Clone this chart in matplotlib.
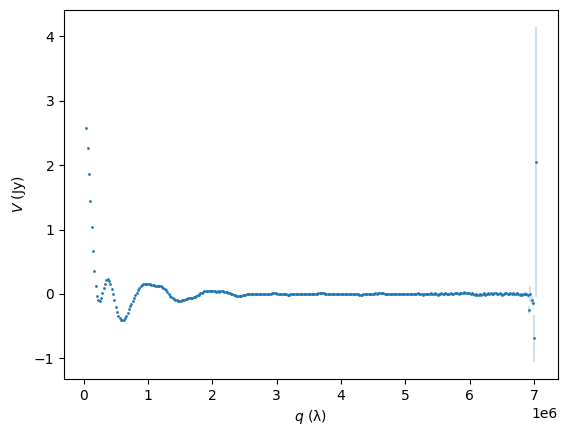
import numpy as np
import matplotlib
matplotlib.use("Agg")
import matplotlib.pyplot as plt

# binned visibilities: regular grid in q (lambda)
q_first = 0.04e6
q_step = 0.0206e6

V = [
    2.58, 2.27, 1.86, 1.44, 1.04, 0.67, 0.36, 0.13, -0.03, -0.10,
    -0.11, -0.06, 0.02, 0.10, 0.16, 0.22, 0.23, 0.20, 0.16, 0.08,
    0.00, -0.10, -0.20, -0.28, -0.34, -0.38, -0.40, -0.41, -0.40, -0.37,
    -0.34, -0.29, -0.24, -0.19, -0.15, -0.11, -0.06, -0.02, 0.02, 0.06,
    0.09, 0.12, 0.14, 0.15, 0.16, 0.16, 0.16, 0.15, 0.15, 0.14,
    0.14, 0.14, 0.13, 0.13, 0.13, 0.12, 0.12, 0.11, 0.10, 0.08,
    0.06, 0.03, 0.00, -0.03, -0.05, -0.07, -0.08, -0.09, -0.10, -0.11,
    -0.11, -0.11, -0.10, -0.10, -0.09, -0.08, -0.08, -0.07, -0.07, -0.06,
    -0.06, -0.05, -0.04, -0.03, -0.02, -0.01, 0.01, 0.02, 0.03, 0.04,
    0.05, 0.05, 0.05, 0.05, 0.04, 0.04, 0.04, 0.04, 0.035, 0.04,
    0.035, 0.04, 0.045, 0.04, 0.035, 0.03, 0.025, 0.02, 0.015, 0.005,
    0.00, -0.01, -0.015, -0.025, -0.03, -0.03, -0.03, -0.025, -0.02, -0.015,
    -0.01, -0.005,
    0.000, 0.002, 0.003, 0.000, -0.002, 0.001, 0.002, 0.000, 0.001, 0.003,
    0.002, 0.000, 0.001, 0.004, 0.003, 0.002, 0.004, 0.006, 0.008, 0.010,
    0.012, 0.009, 0.005, 0.002, 0.001, 0.003, 0.000, 0.001, -0.003, -0.008,
    -0.012, -0.010, -0.004, 0.000, 0.002, 0.001, 0.003, 0.002, 0.001, 0.004,
    0.002, 0.000, 0.003, 0.002, 0.004, 0.003, 0.001, 0.002, 0.003, 0.005,
    0.004, 0.006, 0.007, 0.009, 0.012, 0.013, 0.010, 0.008, 0.005, 0.003,
    0.004, 0.002, 0.000, -0.002, 0.001, 0.000, -0.003, -0.001, 0.002, 0.000,
    -0.002, 0.001, 0.002, 0.000, -0.001, 0.001, 0.000, 0.002, -0.001, 0.000,
    0.001, -0.002, -0.004, -0.006, -0.009, -0.012, -0.014, -0.008, -0.003, 0.001,
    0.003, 0.002, 0.004, 0.006, 0.005, 0.007, 0.008, 0.006, 0.009, 0.012,
    0.014, 0.011, 0.008, 0.006, 0.004, 0.005, 0.003, 0.002, 0.004, 0.001,
    0.003, 0.002, 0.000, 0.002, 0.004, 0.001, 0.003, 0.000, 0.002, 0.001,
    0.000, 0.003, 0.001, -0.002, 0.002, 0.005, -0.006, 0.004, 0.008, -0.004,
    0.002, 0.006, -0.010, 0.003, 0.007, 0.000, -0.008, 0.005, 0.010, 0.002,
    -0.005, 0.008, 0.004, -0.012, 0.006, 0.002, 0.010, -0.004, 0.003, 0.012,
    0.006, -0.008, 0.004, 0.014, 0.002, -0.006, 0.010, 0.016, 0.008, 0.004,
    0.012, 0.020, 0.015, 0.024, 0.018, 0.010, 0.022, 0.014, 0.006, 0.012,
    -0.004, -0.012, 0.002, -0.018, -0.010, 0.004, -0.020, -0.006, 0.008, -0.014,
    0.006, 0.012, -0.002, 0.010, 0.004, -0.008, 0.008, 0.014, 0.002, -0.004,
    0.010, 0.006, -0.010, 0.004, 0.012, 0.008, 0.000, 0.006, 0.010, 0.004,
    0.008, -0.006, 0.004, 0.010, 0.006, -0.012, 0.002, -0.016, 0.006, -0.008,
    -0.002,
    -0.02, -0.245, 0.00, -0.09, -0.14, -0.69, 2.05,
]

V_err = [
    .006, .005, .005, .004, .004, .004, .004, .003, .003, .003,
    .003, .003, .003, .003, .003, .003, .003, .003, .003, .003,
    .003, .003, .003, .003, .003, .003, .003, .003, .003, .003,
    .003, .003, .003, .003, .003, .003, .003, .003, .003, .003,
    .003, .003, .003, .003, .003, .003, .003, .003, .003, .003,
    .003, .003, .003, .003, .003, .003, .003, .003, .003, .003,
    .003, .003, .003, .003, .003, .003, .003, .003, .003, .003,
    .003, .003, .003, .003, .003, .003, .003, .003, .003, .003,
    .003, .003, .003, .003, .003, .003, .003, .003, .003, .003,
    .003, .003, .003, .003, .003, .003, .003, .003, .003, .003,
    .003, .003, .003, .003, .003, .003, .003, .003, .003, .003,
    .003, .003, .003, .003, .003, .003, .003, .003, .003, .003,
    .003, .003,
    .003, .003, .003, .003, .003, .003, .003, .003, .003, .003,
    .003, .003, .003, .003, .003, .003, .003, .003, .003, .003,
    .003, .003, .003, .003, .003, .003, .003, .003, .003, .003,
    .003, .003, .003, .003, .003, .003, .003, .003, .003, .003,
    .003, .003, .003, .003, .003, .003, .003, .003, .003, .003,
    .003, .003, .003, .003, .003, .003, .003, .003, .003, .003,
    .003, .003, .003, .003, .003, .003, .003, .003, .003, .003,
    .004, .004, .004, .004, .004, .004, .004, .004, .004, .004,
    .004, .004, .004, .004, .004, .004, .004, .004, .004, .004,
    .004, .004, .004, .004, .004, .004, .004, .004, .004, .004,
    .004, .004, .004, .004, .004, .004, .004, .004, .004, .004,
    .005, .005, .005, .005, .005, .005, .005, .005, .005, .005,
    .005, .005, .005, .005, .005, .005, .005, .005, .005, .005,
    .006, .006, .006, .006, .006, .006, .006, .006, .006, .006,
    .006, .006, .006, .006, .006, .006, .006, .006, .006, .006,
    .007, .007, .007, .007, .007, .007, .007, .007, .007, .007,
    .008, .008, .008, .008, .008, .008, .008, .008, .008, .008,
    .008, .008, .008, .008, .008, .008, .008, .008, .008, .008,
    .009, .009, .009, .009, .009, .009, .009, .009, .009, .009,
    .010, .010, .010, .010, .010, .010, .010, .010, .010, .010,
    .012, .012, .014, .014, .016, .016, .018, .020, .022, .025,
    .030,
    .040, .060, .120, .060, .040, .370, 2.10,
]

assert len(V) == len(V_err), (len(V), len(V_err))
V = np.array(V)
V_err = np.array(V_err)
q = q_first + q_step * np.arange(len(V))

fig = plt.figure(figsize=(5.69, 4.36), dpi=100)
ax = fig.add_axes([64 / 569, 57 / 436, 494 / 569, 369 / 436])

ax.errorbar(q, V, yerr=V_err, fmt="none", ecolor="C0", alpha=0.2)
ax.plot(q, V, "o", color="C0", ms=2.0, mew=0)

ax.set_xlabel(r"$q$ (λ)")
ax.set_ylabel(r"$V$ (Jy)")

fig.savefig("out.png", dpi=100)
